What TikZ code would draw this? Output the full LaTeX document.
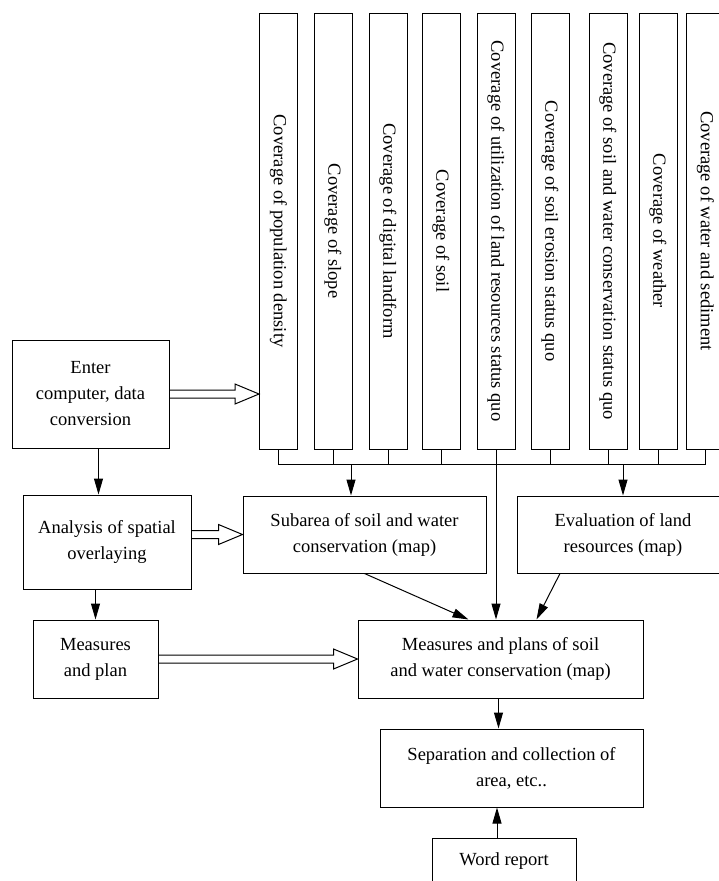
\documentclass[tikz,border=0pt]{standalone}
\usepackage{fontspec}
\setmainfont{Liberation Serif}
\usepackage{tikz}
\usetikzlibrary{arrows.meta, positioning, calc}

% hollow double-line arrow from #1 to #2 (same height)
\newcommand{\hollowarrow}[2]{%
  \draw[link] let \p1=(#1), \p2=(#2) in
    (\x1,\y2+4pt) -- (\x2-24pt,\y2+4pt) -- (\x2-24pt,\y2+10pt) -- (\x2,\y2)
    -- (\x2-24pt,\y2-10pt) -- (\x2-24pt,\y2-4pt) -- (\x1,\y2-4pt);}

\begin{document}
\begin{tikzpicture}[
    x=1pt, y=-1pt,
    font=\fontsize{18.5}{26}\selectfont,
    box/.style={draw, line width=1pt, align=center, inner sep=0pt},
    layer/.style={draw, line width=1pt, rotate=-90, minimum width=436pt, minimum height=38pt, inner sep=2pt},
    link/.style={line width=1pt},
    arr/.style={line width=1pt, -{Triangle[length=16pt, width=9pt]}}
]
\useasboundingbox (0,0) rectangle (718,881);

% Coverages
\node[layer] (c1) at (278.5,231) {Coverage of population density};
\node[layer] (c2) at (333,231) {Coverage of slope};
\node[layer] (c3) at (388,231) {Coverage of digital landform};
\node[layer] (c4) at (441,231) {Coverage of soil};
\node[layer] (c5) at (496,231) {Coverage of utilization of land resources status quo};
\node[layer] (c6) at (550,231) {Coverage of soil erosion status quo};
\node[layer] (c7) at (608,231) {Coverage of soil and water conservation status quo};
\node[layer] (c8) at (658,231) {Coverage of weather};
\node[layer] (c9) at (705.5,231) {Coverage of water and sediment};

% Left column
\node[box, minimum width=157pt, minimum height=108pt] (enter) at (90.5,394) {Enter\\computer, data\\conversion};
\node[box, minimum width=168pt, minimum height=94pt] (ana) at (107,542) {Analysis of spatial\\overlaying};
\node[box, minimum width=125pt, minimum height=78pt] (meas) at (95.5,659) {Measures\\and plan};

% Maps
\node[box, minimum width=243pt, minimum height=77pt] (sub) at (364.5,534.5) {Subarea of soil and water\\conservation (map)};
\node[box, minimum width=212pt, minimum height=77pt] (eval) at (623,534.5) {Evaluation of land\\resources (map)};
\node[box, minimum width=285pt, minimum height=78pt] (mp) at (500.5,659) {Measures and plans of soil\\and water conservation (map)};
\node[box, minimum width=263pt, minimum height=78pt] (sep) at (511.5,768) {Separation and collection of\\area, etc..};
\node[box, minimum width=144pt, minimum height=46pt] (word) at (504,861) {Word report};

% Bus under the coverages
\coordinate (bus) at (0,464);
\coordinate (b1) at (351,464);
\draw[link] (c1.east) -- (c1.east |- bus) -- (c9.east |- bus) -- (c9.east);
\foreach \c in {c2,c3,c4,c6,c7,c8}
  \draw[link] (\c.east) -- (\c.east |- bus);
\draw[arr] (b1) -- (b1 |- sub.north);
\draw[arr] (eval.north |- bus) -- (eval.north);
\draw[arr] (c5.east) -- (c5.east |- mp.north);

% Flow
\draw[arr] ([xshift=8pt]enter.south) -- ([xshift=8pt]enter.south |- ana.north);
\draw[arr] (meas.north |- ana.south) -- (meas.north);
\draw[arr] (sub.south) -- ([xshift=-32pt]mp.north);
\draw[arr] ([xshift=-63pt]eval.south) -- ([xshift=36pt]mp.north);
\draw[arr] ([xshift=-2pt]mp.south) -- ([xshift=-2pt]mp.south |- sep.north);
\draw[arr] ([xshift=-7pt]word.north) -- ([xshift=-7pt]word.north |- sep.south);

% Hollow arrows
\hollowarrow{enter.east}{enter.east -| c1.south}
\hollowarrow{ana.east |- sub.west}{sub.west}
\hollowarrow{meas.east |- mp.west}{mp.west}

\end{tikzpicture}
\end{document}
